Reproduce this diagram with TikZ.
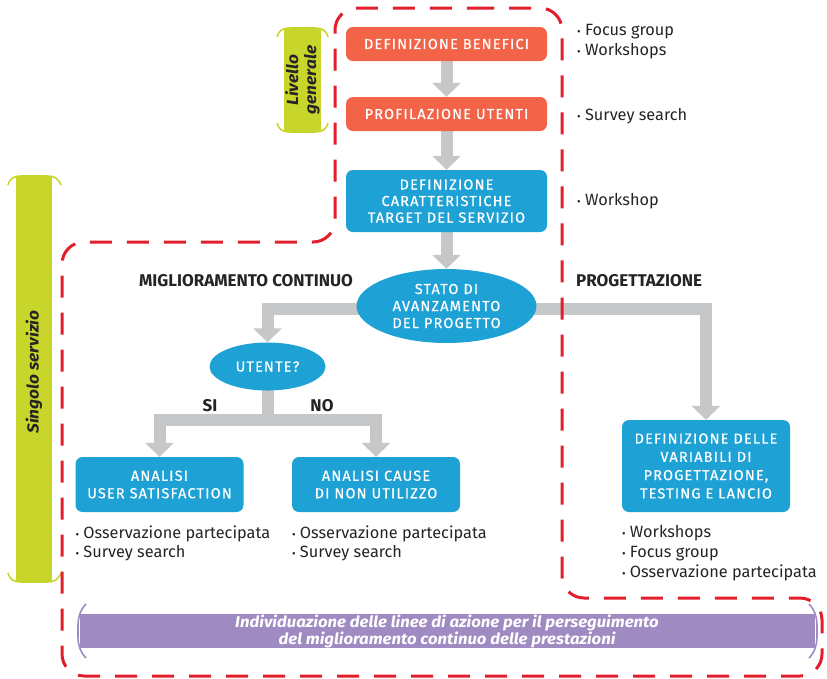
\documentclass[tikz,border=0pt]{standalone}
\usepackage{fontspec}
\setmainfont{Fira Sans}
\newfontfamily\capsfont[LetterSpace=8, FakeBold=0.4]{Fira Sans}
\newfontfamily\widefont[FakeStretch=1.08]{Fira Sans}
\usetikzlibrary{arrows.meta}
\usetikzlibrary{shapes.geometric, positioning, backgrounds}

\definecolor{boxOrange}{HTML}{F26348}
\definecolor{boxBlue}{HTML}{1EA1D5}
\definecolor{flowGray}{HTML}{C6C7C8}
\definecolor{barGreen}{HTML}{C8D62C}
\definecolor{barPurple}{HTML}{A08AC2}
\definecolor{dashRed}{HTML}{E21E2D}
\definecolor{darkText}{HTML}{262324}

\newcommand{\dotitem}{{\fontsize{11}{11}\selectfont •}\ }

\tikzset{
    orangebox/.style={rectangle, rounded corners=7pt, fill=boxOrange, text=white,
        minimum width=201pt, minimum height=34pt, inner sep=0pt, align=center,
        font=\capsfont\fontsize{14.5}{17.5}\selectfont},
    bluebox/.style={orangebox, fill=boxBlue},
    blueoval/.style={ellipse, fill=boxBlue, text=white, inner sep=0pt, align=center,
        font=\capsfont\fontsize{14.5}{17}\selectfont},
    grayarrow/.style={draw=flowGray, line width=12pt, -{Triangle[width=28pt,length=14pt]}},
    grayline/.style={draw=flowGray, line width=12pt, line cap=rect},
    notes/.style={inner sep=0pt, align=left, text=darkText,
        font=\fontsize{16.3}{19.7}\selectfont},
    heading/.style={inner sep=0pt, text=darkText, font=\bfseries\fontsize{17}{19}\selectfont},
    bartext/.style={inner sep=0pt, align=center, text=darkText,
        font=\widefont\bfseries\itshape\fontsize{16}{18}\selectfont},
    barhorn/.style={line width=1.6pt},
    redline/.style={draw=dashRed, line width=3pt, dash pattern=on 22pt off 15pt,
        rounded corners=22pt},
}

\begin{document}
\begin{tikzpicture}[x=1pt, y=-1pt, >=Stealth]
    \useasboundingbox (0,0) rectangle (827,678);

    % Livello generale
    \fill[barGreen] (284,28) rectangle (321,132);
    \draw[barGreen, barhorn] (277,37) .. controls (279,30) and (283,28) .. (290,28) -- (315,28) .. controls (322,28) and (326,30) .. (328,37);
    \draw[barGreen, barhorn] (277,123) .. controls (279,130) and (283,132) .. (290,132) -- (315,132) .. controls (322,132) and (326,130) .. (328,123);
    \node[bartext, rotate=90] (livello) at (302.5,80) {Livello\\generale};

    % Singolo servizio
    \fill[barGreen] (16,176) rectangle (52,582);
    \draw[barGreen, barhorn] (8,185) .. controls (10,178) and (14,176) .. (21,176) -- (47,176) .. controls (54,176) and (58,178) .. (61,185);
    \draw[barGreen, barhorn] (8,573) .. controls (10,580) and (14,582) .. (21,582) -- (47,582) .. controls (54,582) and (58,580) .. (61,573);
    \node[bartext, rotate=90] (singolo) at (34,372) {Singolo servizio};

    % Linee di azione
    \fill[barPurple] (80,614) rectangle (815,648);
    \draw[barPurple, barhorn] (86,604) .. controls (80,610) and (78,618) .. (78,625) -- (78,637) .. controls (78,644) and (80,652) .. (86,658);
    \draw[barPurple, barhorn] (809,604) .. controls (815,610) and (817,618) .. (817,625) -- (817,637) .. controls (817,644) and (815,652) .. (809,658);
    \node[bartext, text=white, font=\widefont\bfseries\itshape\fontsize{15.5}{16}\selectfont] (azione) at (447,631) {Individuazione delle linee di azione per il perseguimento\\del miglioramento continuo delle prestazioni};

    % Fasi
    \node[orangebox] (benefici) at (446.5,44) {DEFINIZIONE BENEFICI};
    \node[orangebox] (profilazione) at (446.5,114) {PROFILAZIONE UTENTI};
    \node[bluebox, minimum height=62pt, font=\capsfont\fontsize{14.5}{16.5}\selectfont] (target) at (446.5,201) {DEFINIZIONE\\CARATTERISTICHE\\TARGET DEL SERVIZIO};
    \node[blueoval, minimum width=180pt, minimum height=74pt] (stato) at (446.5,306) {STATO DI\\AVANZAMENTO\\DEL PROGETTO};
    \node[blueoval, minimum width=116pt, minimum height=48pt] (utente) at (267.5,366.5) {UTENTE?};
    \node[bluebox, minimum width=168pt, minimum height=55pt] (soddisfazione) at (159.5,484.5) {ANALISI\\USER SATISFACTION};
    \node[bluebox, minimum width=168pt, minimum height=55pt] (cause) at (376,484.5) {ANALISI CAUSE\\DI NON UTILIZZO};
    \node[bluebox, minimum width=168pt, minimum height=92pt, font=\capsfont\fontsize{14.5}{18.3}\selectfont] (variabili) at (706,466) {DEFINIZIONE DELLE\\VARIABILI DI\\PROGETTAZIONE,\\TESTING E LANCIO};
    \coordinate (bivio) at (267.5,420);

    % Titoli
    \node[heading] (miglioramento) at (246,281) {MIGLIORAMENTO CONTINUO};
    \node[heading, anchor=west] (progettazione) at (576,281) {PROGETTAZIONE};
    \node[heading] (si) at (210,406) {SI};
    \node[heading] (no) at (322,406) {NO};

    % Strumenti
    \node[notes, anchor=north west] (notebenefici) at (577,24) {\dotitem Focus group\\\dotitem Workshops};
    \node[notes, anchor=north west] (noteprofilazione) at (577,108) {\dotitem Survey search};
    \node[notes, anchor=north west] (notetarget) at (577,193) {\dotitem Workshop};
    \node[notes, below right=13pt and 0pt of soddisfazione.south west] (notesoddisfazione) {\dotitem Osservazione partecipata\\\dotitem Survey search};
    \node[notes, below right=13pt and 0pt of cause.south west] (notecause) {\dotitem Osservazione partecipata\\\dotitem Survey search};
    \node[notes, below right=13pt and 0pt of variabili.south west] (notevariabili) {\dotitem Workshops\\\dotitem Focus group\\\dotitem Osservazione partecipata};

    % Flusso
    \begin{scope}[on background layer]
        \draw[grayarrow] (benefici) -- (profilazione);
        \draw[grayarrow] (profilazione) -- (target);
        \draw[grayarrow] (target) -- (stato);
        \draw[grayarrow] ([yshift=-3pt]stato.center) -| (utente);
        \draw[grayarrow] ([yshift=-3pt]stato.center) -| (variabili);
        \draw[grayline] (utente) -- (bivio);
        \draw[grayarrow] (bivio) -| (soddisfazione);
        \draw[grayarrow] (bivio) -| (cause);
    \end{scope}

    % Ambiti
    \draw[redline] (450,8) -- (562,8) -- (562,598) -- (822,598) -- (822,676) -- (62,676) -- (62,242) -- (335,242) -- (335,8) -- cycle;
\end{tikzpicture}
\end{document}
